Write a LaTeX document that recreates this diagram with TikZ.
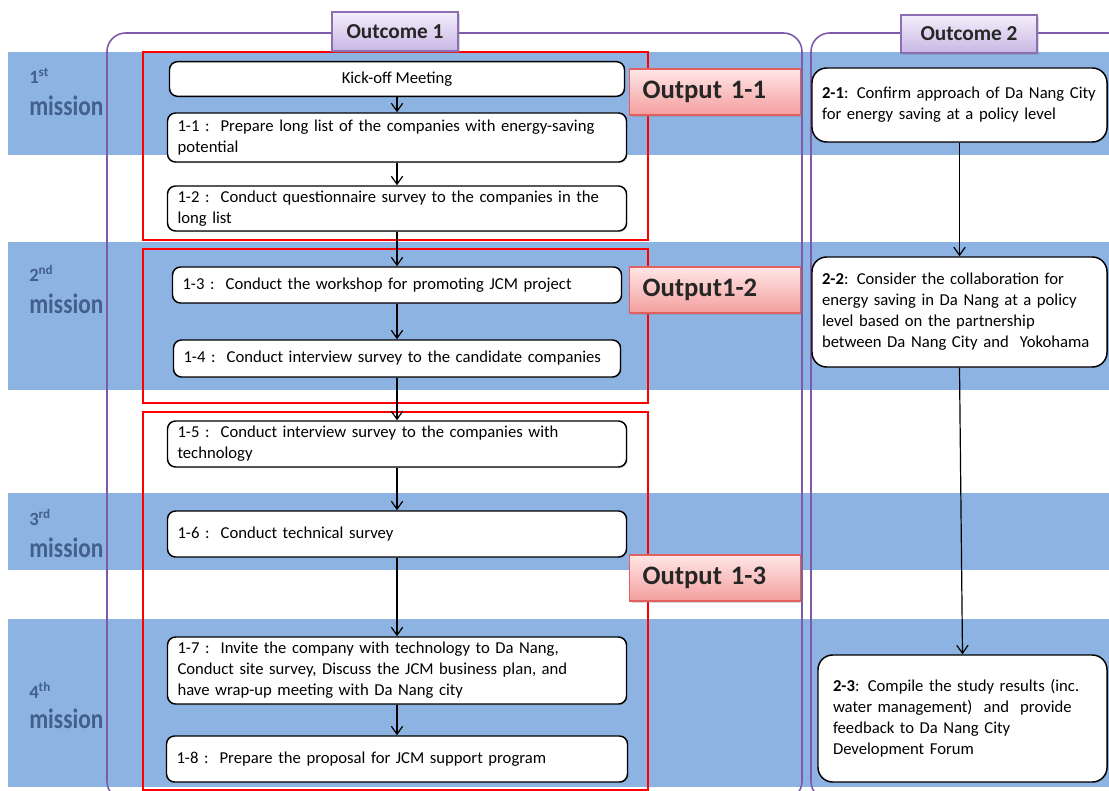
\documentclass[tikz,border=0pt]{standalone}
\usepackage{fontspec}
\setmainfont{Carlito}
\usepackage{graphicx}
\usetikzlibrary{arrows.meta,shadows}
\hyphenpenalty=10000
\exhyphenpenalty=10000
\definecolor{band}{RGB}{141,179,226}
\definecolor{misscol}{RGB}{66,96,140}
\definecolor{purp}{RGB}{125,90,170}
\definecolor{outdraw}{RGB}{225,95,95}
\definecolor{outtop}{RGB}{255,230,230}
\definecolor{outbot}{RGB}{244,158,158}
\definecolor{ocdraw}{RGB}{140,110,180}
\definecolor{octop}{RGB}{244,239,251}
\definecolor{ocbot}{RGB}{200,182,228}
\begin{document}
\begin{tikzpicture}[x=0.75pt,y=-0.75pt,
  stepbox/.style={draw=black, line width=1.1pt, fill=white, rounded corners=6pt,
    inner xsep=7.5pt, inner ysep=1pt, align=left,
    font=\fontsize{12.5}{15.75}\selectfont,
    drop shadow={opacity=0.3,shadow xshift=0.8pt,shadow yshift=-0.8pt}},
  wide/.style={stepbox, text width=329.25pt},
  roundbox/.style={stepbox, rounded corners=11pt},
  flow/.style={draw=black, line width=0.9pt, -{Straight Barb[length=6pt,width=8.5pt]}},
  redframe/.style={draw=red, line width=1.1pt},
  purframe/.style={draw=purp, line width=1.2pt, rounded corners=14pt},
  outlab/.style={draw=outdraw, line width=0.8pt, top color=outtop, bottom color=outbot,
    font=\fontsize{20}{24}\selectfont\bfseries, text=black!85, align=left,
    inner xsep=9.75pt, text width=108.75pt, minimum height=34.5pt,
    drop shadow={opacity=0.3,shadow xshift=1.5pt,shadow yshift=-1.5pt}},
  oclab/.style={draw=ocdraw, line width=0.8pt, top color=octop, bottom color=ocbot,
    font=\fontsize{16}{19}\selectfont\bfseries, text=black!85,
    drop shadow={opacity=0.3,shadow xshift=1.5pt,shadow yshift=-1.5pt}},
  numlab/.style={anchor=west, inner sep=0pt, text=misscol, font=\fontsize{14}{16}\selectfont\bfseries},
  misslab/.style={anchor=west, inner sep=0pt, text=misscol, font=\fontsize{17.5}{20}\selectfont\bfseries}
]
\clip (0,0) rectangle (1109,791);
% mission bands
\fill[band] (8,52) rectangle (1109,155);
\fill[band] (8,242) rectangle (1109,390);
\fill[band] (8,493) rectangle (1109,570);
\fill[band] (8,619) rectangle (1109,787);
% mission labels
\node[numlab] (m1n) at (29,76) {1\textsuperscript{st}};
\node[misslab] (m1t) at (29,106) {\scalebox{1}[1.2]{mission}};
\node[numlab] (m2n) at (29,273) {2\textsuperscript{nd}};
\node[misslab] (m2t) at (29,304) {\scalebox{1}[1.2]{mission}};
\node[numlab] (m3n) at (29,517) {3\textsuperscript{rd}};
\node[misslab] (m3t) at (29,548) {\scalebox{1}[1.2]{mission}};
\node[numlab] (m4n) at (29,690) {4\textsuperscript{th}};
\node[misslab] (m4t) at (29,719) {\scalebox{1}[1.2]{mission}};
% outcome frames
\draw[purframe] (107,33) rectangle (802,800);
\draw[purframe] (811,33) rectangle (1135,800);
% output frames
\draw[redframe] (143,52) rectangle (648,240);
\draw[redframe] (143,249) rectangle (648,403);
\draw[redframe] (143,412) rectangle (648,790);
% outcome 1 steps
\node[stepbox, align=center, minimum width=341.25pt, minimum height=26pt] (k) at (397,79) {Kick-off Meeting};
\node[wide, minimum height=36.75pt] (a11) at (397,137.5) {1-1 :\ \ Prepare long list of the companies with energy-saving\\potential};
\node[wide, minimum height=33.75pt] (a12) at (397,208.5) {1-2 :\ \ Conduct questionnaire survey to the companies in the\\long list};
\node[stepbox, text width=321.75pt, minimum height=27pt] (a13) at (397,285) {1-3 :\ \ Conduct the workshop for promoting JCM project};
\node[stepbox, text width=320.25pt, minimum height=27.75pt] (a14) at (397,358.5) {1-4 :\ \ Conduct interview survey to the candidate companies};
\node[wide, minimum height=34.5pt] (a15) at (397,444) {1-5 :\ \ Conduct interview survey to the companies with\\technology};
\node[wide, minimum height=34.5pt] (a16) at (397,534) {1-6 :\ \ Conduct technical survey};
\node[wide, minimum height=50.25pt] (a17) at (397,670.5) {1-7 :\ \ Invite the company with technology to Da Nang,\\Conduct site survey, Discuss the JCM business plan, and\\have wrap-up meeting with Da Nang city};
\node[stepbox, text width=330.75pt, minimum height=34.5pt] (a18) at (397,759) {1-8 :\ \ Prepare the proposal for JCM support program};
% outcome 2 steps
\node[roundbox, text width=206.25pt, minimum height=55.5pt] (b21) at (959.5,105) {\textbf{2-1}: Confirm approach of Da Nang City\\for energy saving at a policy level};
\node[roundbox, text width=206.25pt, minimum height=82.5pt] (b22) at (959.5,312) {\textbf{2-2}: Consider the collaboration for\\energy saving in Da Nang at a policy\\level based on the partnership\\between Da Nang City and\ \ Yokohama};
\node[roundbox, inner xsep=11.25pt, text width=194.25pt, minimum height=95.25pt] (b23) at (962.5,718.5) {\textbf{2-3}: Compile the study results (inc.\\water management)\ \ and\ \ provide\\feedback to Da Nang City\\Development Forum};
% connectors
\draw[flow] (k) -- (a11);
\draw[flow] (a11) -- (a12);
\draw[flow] (a12) -- (a13);
\draw[flow] (a13) -- (a14);
\draw[flow] (a14) -- (a15);
\draw[flow] (a15) -- (a16);
\draw[flow] (a16) -- (a17);
\draw[flow] (a17) -- (a18);
\draw[flow] (b21) -- (b22);
\draw[flow] (b22.south) -- (b23.north);
% output labels
\node[outlab] (o11) at (715,92) {Output 1-1};
\node[outlab] (o12) at (715,290) {Output1-2};
\node[outlab] (o13) at (715,578) {Output 1-3};
% outcome labels
\node[oclab, minimum width=94.5pt, minimum height=29.25pt] (oc1) at (395,31.5) {Outcome 1};
\node[oclab, minimum width=102pt, minimum height=28.5pt] (oc2) at (969,34) {Outcome 2};
\end{tikzpicture}
\end{document}
